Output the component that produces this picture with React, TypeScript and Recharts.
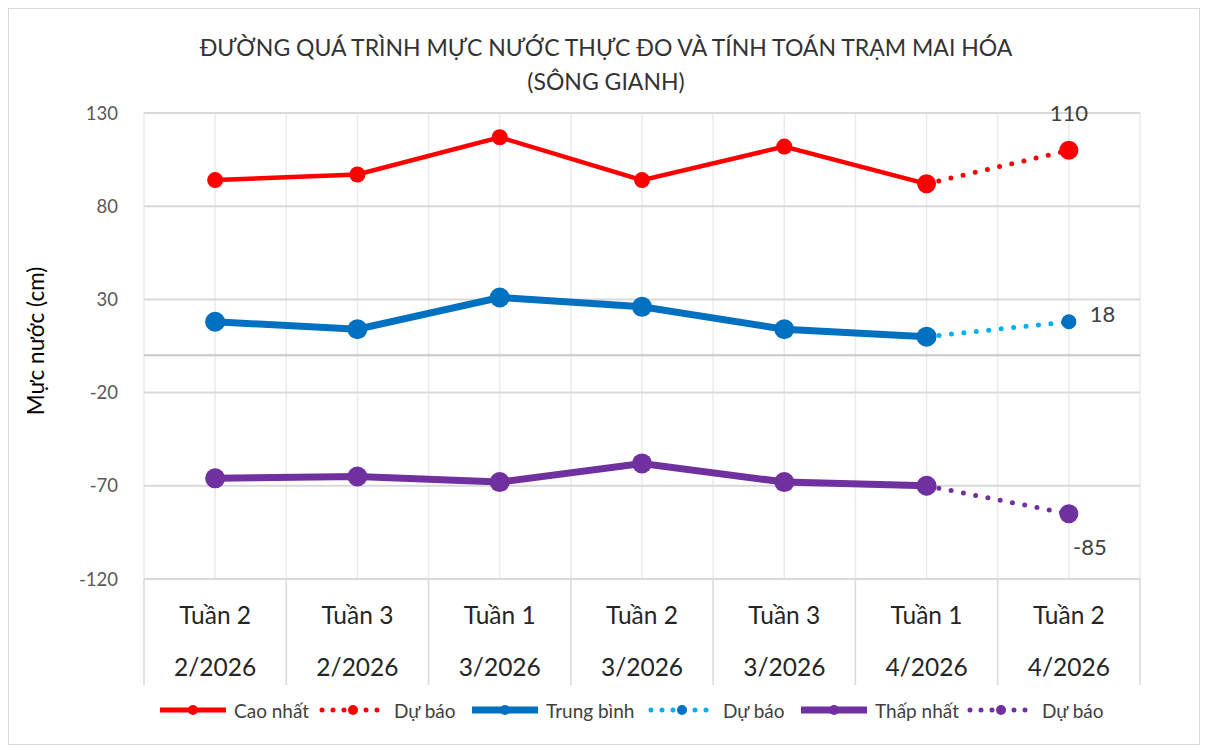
import {
  CartesianGrid,
  LabelList,
  Legend,
  Line,
  LineChart,
  ReferenceLine,
  XAxis,
  YAxis,
} from 'recharts';

const weeks = ['Tuần 2', 'Tuần 3', 'Tuần 1', 'Tuần 2', 'Tuần 3', 'Tuần 1', 'Tuần 2'];
const months = ['2/2026', '2/2026', '3/2026', '3/2026', '3/2026', '4/2026', '4/2026'];

// observed + forecast, forecast starts from the last observed week
const highObs = [94, 97, 117, 94, 112, 92, null];
const highFc = [null, null, null, null, null, 92, 110];
const avgObs = [18, 14, 31, 26, 14, 10, null];
const avgFc = [null, null, null, null, null, 10, 18];
const lowObs = [-66, -65, -68, -58, -68, -70, null];
const lowFc = [null, null, null, null, null, -70, -85];

const yTicks = [-120, -70, -20, 30, 80, 130];

const RED = '#FF0000';
const BLUE = '#0070C0';
const SKY = '#00B0F0';
const PURPLE = '#7030A0';
const FONT = 'Lato, "Open Sans", sans-serif';

const data = weeks.map((w, i) => ({
  idx: i,
  high: highObs[i],
  highFc: highFc[i],
  avg: avgObs[i],
  avgFc: avgFc[i],
  low: lowObs[i],
  lowFc: lowFc[i],
}));

// gridlines at category centres and boundaries
const xTicks: number[] = [];
for (let i = 0; i <= weeks.length * 2; i++) xTicks.push(i / 2 - 0.5);

const legendItems = [
  { name: 'Cao nhất', color: RED, marker: RED, dotted: false, w: 5 },
  { name: 'Dự báo', color: RED, marker: RED, dotted: true, w: 5 },
  { name: 'Trung bình', color: BLUE, marker: BLUE, dotted: false, w: 7 },
  { name: 'Dự báo', color: SKY, marker: BLUE, dotted: true, w: 5 },
  { name: 'Thấp nhất', color: PURPLE, marker: PURPLE, dotted: false, w: 7 },
  { name: 'Dự báo', color: PURPLE, marker: PURPLE, dotted: true, w: 5 },
];
const legendWidths = [160, 152, 177, 152, 167, 140];

function makeDot(r: number, fill: string) {
  return (p: any) => {
    if (p.cy == null || p.value == null) return <g key={p.index} />;
    return <circle key={p.index} cx={p.cx} cy={p.cy} r={r} fill={fill} stroke="none" />;
  };
}

function XTick(props: any) {
  const { x, y, payload } = props;
  const v = payload.value;
  if (!Number.isInteger(v)) {
    return <line x1={x} x2={x} y1={y} y2={y + 106} stroke="#d9d9d9" strokeWidth={1.5} />;
  }
  return (
    <g>
      <text x={x} y={y + 45} textAnchor="middle" fontSize={24.5} fill="#262626" fontFamily={FONT}>
        {weeks[v]}
      </text>
      <text x={x} y={y + 97} textAnchor="middle" fontSize={24.5} fill="#262626" fontFamily={FONT}>
        {months[v]}
      </text>
    </g>
  );
}

function endLabel(pos: 'top' | 'right' | 'bottom') {
  return (p: any) => {
    if (p.index !== weeks.length - 1) return null;
    let x = p.x;
    let y = p.y;
    let anchor: 'middle' | 'start' = 'middle';
    if (pos === 'top') y -= 37;
    if (pos === 'right') {
      x += 21;
      y -= 7;
      anchor = 'start';
    }
    if (pos === 'bottom') {
      x += 21;
      y += 34;
    }
    return (
      <text
        x={x}
        y={y}
        dy="0.35em"
        textAnchor={anchor}
        fontSize={22}
        fill="#404040"
        fontFamily={FONT}
      >
        {p.value}
      </text>
    );
  };
}

function LegendContent() {
  return (
    <div
      style={{
        display: 'flex',
        alignItems: 'center',
        marginLeft: 89,
        height: 30,
        fontFamily: FONT,
        fontSize: 19,
        color: '#404040',
      }}
    >
      {legendItems.map((it, i) => (
        <div
          key={i}
          style={{ display: 'flex', alignItems: 'center', width: legendWidths[i], flex: 'none' }}
        >
          <svg width={70} height={16}>
            {it.dotted ? (
              <line
                x1={4}
                x2={68}
                y1={8}
                y2={8}
                stroke={it.color}
                strokeWidth={it.w}
                strokeDasharray="0 11"
                strokeLinecap="round"
              />
            ) : (
              <line x1={2} x2={68} y1={8} y2={8} stroke={it.color} strokeWidth={it.w} />
            )}
            <circle cx={35} cy={8} r={5} fill={it.marker} />
          </svg>
          <span style={{ marginLeft: 6, whiteSpace: 'nowrap' }}>{it.name}</span>
        </div>
      ))}
    </div>
  );
}

export default function App() {
  return (
    <div
      style={{
        position: 'relative',
        width: 1192,
        height: 737,
        border: '1px solid #d9d9d9',
        boxSizing: 'border-box',
        background: '#fff',
      }}
    >
      <div
        style={{
          position: 'absolute',
          top: 21,
          left: 0,
          width: 1190,
          textAlign: 'center',
          fontFamily: FONT,
          fontSize: 23,
          lineHeight: '34px',
          color: '#333333',
        }}
      >
        <div style={{ paddingLeft: 4 }}>
          ĐƯỜNG QUÁ TRÌNH MỰC NƯỚC THỰC ĐO VÀ TÍNH TOÁN TRẠM MAI HÓA
        </div>
        <div style={{ paddingLeft: 4 }}>(SÔNG GIANH)</div>
      </div>
      <LineChart
        width={1190}
        height={735}
        data={data}
        margin={{ top: 104, right: 59, bottom: 19, left: 60 }}
      >
        <CartesianGrid horizontal={false} stroke="#ebebeb" strokeWidth={1.5} />
        <CartesianGrid vertical={false} stroke="#d9d9d9" strokeWidth={2} />
        <XAxis
          type="number"
          dataKey="idx"
          domain={[-0.5, weeks.length - 0.5]}
          ticks={xTicks}
          interval={0}
          tick={<XTick />}
          tickLine={false}
          tickSize={0}
          tickMargin={0}
          axisLine={{ stroke: '#d9d9d9', strokeWidth: 2 }}
          height={116}
        />
        <YAxis
          domain={[-120, 130]}
          ticks={yTicks}
          interval={0}
          width={75}
          tickLine={false}
          axisLine={false}
          tickMargin={20}
          tick={{ fontSize: 18.5, fill: '#595959', fontFamily: FONT }}
          label={{
            content: (p: any) => {
              const lx = p.viewBox.x - 33;
              const ly = p.viewBox.y + p.viewBox.height / 2 - 5;
              return (
                <text
                  x={lx}
                  y={ly}
                  transform={`rotate(-90 ${lx} ${ly})`}
                  textAnchor="middle"
                  dy="0.35em"
                  fontSize={22.5}
                  fill="#000"
                  fontFamily={FONT}
                >
                  Mực nước (cm)
                </text>
              );
            },
          }}
        />
        <ReferenceLine y={0} stroke="#c8c8c8" strokeWidth={2} />
        <Legend verticalAlign="bottom" align="left" height={30} content={<LegendContent />} />
        <Line
          dataKey="high"
          stroke={RED}
          strokeWidth={4.5}
          dot={makeDot(8, RED)}
          activeDot={false}
          isAnimationActive={false}
          connectNulls={false}
        />
        <Line
          dataKey="highFc"
          stroke={RED}
          strokeWidth={5}
          strokeDasharray="0 12.5"
          strokeLinecap="round"
          dot={makeDot(9.5, RED)}
          activeDot={false}
          isAnimationActive={false}
        >
          <LabelList dataKey="highFc" content={endLabel('top')} />
        </Line>
        <Line
          dataKey="avgFc"
          stroke={SKY}
          strokeWidth={5}
          strokeDasharray="0 12.5"
          strokeLinecap="round"
          dot={makeDot(7.5, BLUE)}
          activeDot={false}
          isAnimationActive={false}
        >
          <LabelList dataKey="avgFc" content={endLabel('right')} />
        </Line>
        <Line
          dataKey="avg"
          stroke={BLUE}
          strokeWidth={7}
          dot={makeDot(10, BLUE)}
          activeDot={false}
          isAnimationActive={false}
        />
        <Line
          dataKey="low"
          stroke={PURPLE}
          strokeWidth={7}
          dot={makeDot(10, PURPLE)}
          activeDot={false}
          isAnimationActive={false}
        />
        <Line
          dataKey="lowFc"
          stroke={PURPLE}
          strokeWidth={5}
          strokeDasharray="0 12.5"
          strokeLinecap="round"
          dot={makeDot(9.5, PURPLE)}
          activeDot={false}
          isAnimationActive={false}
        >
          <LabelList dataKey="lowFc" content={endLabel('bottom')} />
        </Line>
      </LineChart>
    </div>
  );
}
